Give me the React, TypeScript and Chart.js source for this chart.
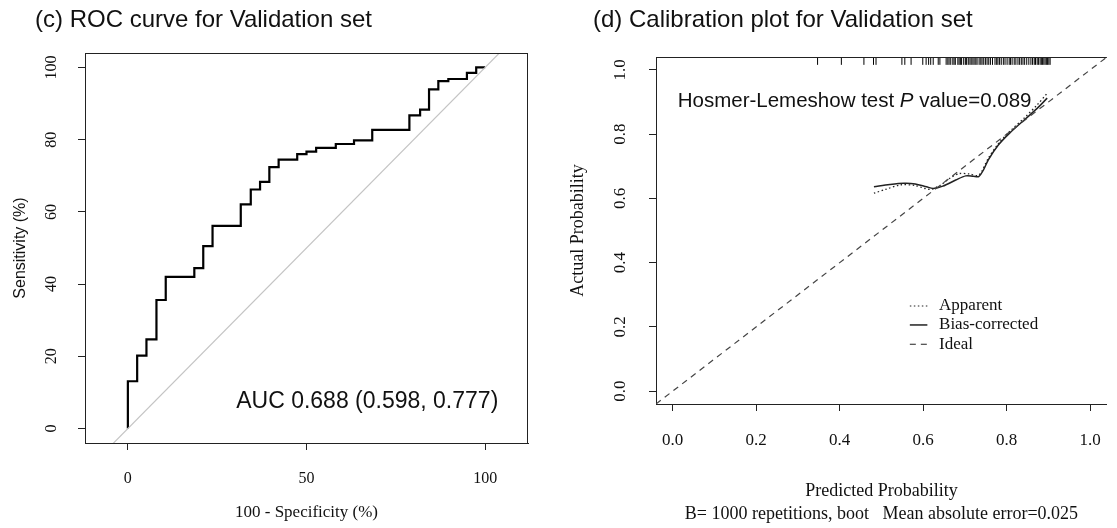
import React, { useEffect, useRef } from 'react';
import { Chart, registerables } from 'chart.js';

Chart.register(...registerables);

// ---------- (c) ROC curve data (100 - specificity %, sensitivity %) ----------
const rocFpr = [0, 0, 2.6, 2.6, 5.2, 5.2, 8.0, 8.0, 10.6, 10.6, 18.6, 18.6, 21.1, 21.1, 23.7, 23.7, 31.6, 31.6, 34.4, 34.4, 37.0, 37.0, 39.6, 39.6, 42.2, 42.2, 47.4, 47.4, 50.0, 50.0, 52.7, 52.7, 58.2, 58.2, 63.3, 63.3, 68.4, 68.4, 78.8, 78.8, 81.8, 81.8, 84.3, 84.3, 86.9, 86.9, 89.7, 89.7, 94.9, 94.9, 97.5, 97.5, 100];
const rocTpr = [0, 13.1, 13.1, 20.2, 20.2, 24.7, 24.7, 35.6, 35.6, 42.0, 42.0, 44.4, 44.4, 50.5, 50.5, 56.1, 56.1, 62.1, 62.1, 66.2, 66.2, 68.3, 68.3, 72.4, 72.4, 74.5, 74.5, 76.0, 76.0, 76.7, 76.7, 77.7, 77.7, 78.8, 78.8, 79.8, 79.8, 82.7, 82.7, 86.7, 86.7, 88.3, 88.3, 93.9, 93.9, 96.2, 96.2, 96.8, 96.8, 98.5, 98.5, 100, 100];
const rocDiagonal = [-20, 130];
const rocXTicks = [0, 50, 100];
const rocYTicks = [0, 20, 40, 60, 80, 100];
const rocAucText = 'AUC 0.688 (0.598, 0.777)';

// ---------- (d) Calibration data ----------
const calTicks = [0, 0.2, 0.4, 0.6, 0.8, 1.0];
const idealLine = [-0.04, 1.04];
const apparentX = [0.482, 0.51, 0.546, 0.58, 0.616, 0.64, 0.663, 0.686, 0.71, 0.733, 0.756, 0.78, 0.807, 0.842, 0.873, 0.897];
const apparentY = [0.616, 0.628, 0.642, 0.64, 0.628, 0.64, 0.662, 0.677, 0.676, 0.672, 0.725, 0.77, 0.808, 0.85, 0.891, 0.927];
const biasX = [0.482, 0.52, 0.554, 0.581, 0.608, 0.624, 0.647, 0.678, 0.702, 0.72, 0.733, 0.745, 0.756, 0.78, 0.807, 0.842, 0.873, 0.897];
const biasY = [0.636, 0.643, 0.647, 0.645, 0.636, 0.631, 0.638, 0.657, 0.67, 0.669, 0.668, 0.69, 0.72, 0.766, 0.803, 0.844, 0.88, 0.912];
const rugX = [0.347, 0.404, 0.458, 0.481, 0.487, 0.549, 0.556, 0.571, 0.599, 0.607, 0.613, 0.618, 0.624, 0.636, 0.64,
  0.655, 0.659, 0.662, 0.666, 0.671, 0.674, 0.677, 0.683, 0.686, 0.689, 0.692, 0.697, 0.701, 0.704, 0.708, 0.712, 0.715,
  0.719, 0.722, 0.726, 0.729, 0.734, 0.738, 0.741, 0.745, 0.749, 0.753, 0.757, 0.761, 0.766, 0.772, 0.776, 0.779, 0.783,
  0.787, 0.792, 0.796, 0.801, 0.806, 0.809, 0.813, 0.818, 0.822, 0.827, 0.831, 0.835, 0.839, 0.843, 0.848, 0.853, 0.858,
  0.862, 0.866, 0.869, 0.873, 0.876, 0.88, 0.883, 0.886, 0.889, 0.892, 0.895, 0.898, 0.901, 0.904];
const rugLevel = 1.028;
const hlText = ['Hosmer-Lemeshow test ', 'P', ' value=0.089'];
const legendLabels = ['Apparent', 'Bias-corrected', 'Ideal'];
const legendDashes = [[1.5, 2.5], [], [6, 5]];

const INK = '#111';
const LINE = '#222';
const SERIF = 'Liberation Serif';
const SANS = 'Liberation Sans';

function boxPlugin(drawRight: boolean) {
  return {
    id: 'rBox',
    afterDraw(chart: any) {
      const { ctx, chartArea: a } = chart;
      ctx.save();
      ctx.strokeStyle = LINE;
      ctx.lineWidth = 1;
      ctx.beginPath();
      const t = Math.round(a.top) + 0.5;
      ctx.moveTo(a.left, t);
      ctx.lineTo(a.right, t);
      if (drawRight) {
        const r = Math.round(a.right) - 0.5;
        ctx.moveTo(r, a.top);
        ctx.lineTo(r, a.bottom);
      }
      ctx.stroke();
      ctx.restore();
    },
  };
}

function rotatedYLabels(xPos: number, fmt: (v: number) => string, font: string) {
  return {
    id: 'rotatedYLabels',
    afterDraw(chart: any) {
      const ctx = chart.ctx;
      const s = chart.scales.y;
      ctx.save();
      ctx.fillStyle = INK;
      ctx.font = font;
      ctx.textAlign = 'center';
      ctx.textBaseline = 'middle';
      s.ticks.forEach((t: any) => {
        const py = s.getPixelForValue(t.value);
        ctx.save();
        ctx.translate(xPos, py);
        ctx.rotate(-Math.PI / 2);
        ctx.fillText(fmt(t.value), 0, 0);
        ctx.restore();
      });
      ctx.restore();
    },
  };
}

function titlePlugin(text: string, x: number, y: number) {
  return {
    id: 'panelTitle',
    afterDraw(chart: any) {
      const ctx = chart.ctx;
      ctx.save();
      ctx.fillStyle = INK;
      ctx.font = `24px "${SANS}"`;
      ctx.textAlign = 'left';
      ctx.textBaseline = 'middle';
      ctx.fillText(text, x, y);
      ctx.restore();
    },
  };
}

const aucPlugin = {
  id: 'aucText',
  afterDraw(chart: any) {
    const { ctx, scales } = chart;
    ctx.save();
    ctx.fillStyle = INK;
    ctx.font = `23px "${SANS}"`;
    ctx.textAlign = 'center';
    ctx.textBaseline = 'middle';
    ctx.fillText(rocAucText, scales.x.getPixelForValue(67), scales.y.getPixelForValue(7.5));
    ctx.restore();
  },
};

const calAnnotPlugin = {
  id: 'calAnnot',
  afterDraw(chart: any) {
    const { ctx, scales } = chart;
    const sx = scales.x, sy = scales.y;
    ctx.save();
    ctx.fillStyle = INK;
    ctx.textBaseline = 'middle';
    ctx.textAlign = 'left';
    // Hosmer-Lemeshow text with italic P
    let px = sx.getPixelForValue(0.012);
    const py = sy.getPixelForValue(0.903);
    hlText.forEach((part, i) => {
      ctx.font = i === 1 ? `italic 20.5px "${SANS}"` : `20.5px "${SANS}"`;
      ctx.fillText(part, px, py);
      px += ctx.measureText(part).width;
    });
    // legend
    const ly = [0.265, 0.206, 0.146];
    ctx.font = `17px "${SERIF}"`;
    legendLabels.forEach((lab, i) => {
      const y = sy.getPixelForValue(ly[i]);
      ctx.save();
      ctx.strokeStyle = LINE;
      ctx.lineWidth = i === 1 ? 1.5 : 1.2;
      ctx.setLineDash(legendDashes[i]);
      ctx.beginPath();
      ctx.moveTo(sx.getPixelForValue(0.568), y);
      ctx.lineTo(sx.getPixelForValue(0.61), y);
      ctx.stroke();
      ctx.restore();
      ctx.fillText(lab, sx.getPixelForValue(0.638), y);
    });
    ctx.restore();
  },
};

function fixedTicks(values: number[]) {
  return (s: any) => {
    s.ticks = values.map((v) => ({ value: v }));
  };
}

export default function App() {
  const leftRef = useRef<HTMLCanvasElement>(null);
  const rightRef = useRef<HTMLCanvasElement>(null);

  useEffect(() => {
    Chart.defaults.font.family = SERIF;
    const axisGrid = { drawOnChartArea: false, drawTicks: true, tickLength: 7, color: LINE, lineWidth: 1 };
    const axisBorder = { color: LINE, width: 1 };

    const roc = new Chart(leftRef.current as HTMLCanvasElement, {
      type: 'scatter',
      data: {
        datasets: [
          {
            data: rocDiagonal.map((v) => ({ x: v, y: v })),
            showLine: true,
            borderColor: '#c4c4c4',
            borderWidth: 1.2,
            pointRadius: 0,
          },
          {
            data: rocFpr.map((x, i) => ({ x, y: rocTpr[i] })),
            showLine: true,
            borderColor: '#000',
            borderWidth: 2.2,
            pointRadius: 0,
            tension: 0,
          },
        ],
      },
      options: {
        responsive: false,
        animation: false,
        events: [],
        layout: { padding: { top: 53, right: 32, left: 0, bottom: 0 } },
        plugins: { legend: { display: false }, tooltip: { enabled: false } },
        scales: {
          x: {
            type: 'linear',
            min: -12,
            max: 112,
            afterBuildTicks: fixedTicks(rocXTicks),
            afterFit: (s: any) => { s.height = 85; },
            grid: axisGrid,
            border: axisBorder,
            ticks: { autoSkip: false, maxRotation: 0, padding: 19, color: INK, font: { family: SERIF, size: 16 }, callback: (v: any) => String(v) },
            title: { display: true, text: '100 - Specificity (%)', color: INK, font: { family: SERIF, size: 17 }, padding: { top: 0, bottom: 4.8 } },
          },
          y: {
            type: 'linear',
            min: -4,
            max: 104,
            afterBuildTicks: fixedTicks(rocYTicks),
            afterFit: (s: any) => { s.width = 85; },
            grid: axisGrid,
            border: axisBorder,
            ticks: { display: false },
            title: { display: true, text: 'Sensitivity (%)', color: INK, font: { family: SANS, size: 16 }, padding: { top: 11.4, bottom: 0 } },
          },
        },
      } as any,
      plugins: [
        boxPlugin(true),
        rotatedYLabels(52, (v) => String(v), `16px "${SERIF}"`),
        titlePlugin('(c) ROC curve for Validation set', 35, 20),
        aucPlugin,
      ],
    });

    const cal = new Chart(rightRef.current as HTMLCanvasElement, {
      type: 'scatter',
      data: {
        datasets: [
          {
            data: idealLine.map((v) => ({ x: v, y: v })),
            showLine: true,
            borderColor: '#444',
            borderWidth: 1.2,
            borderDash: [6, 5],
            pointRadius: 0,
          },
          {
            data: apparentX.map((x, i) => ({ x, y: apparentY[i] })),
            showLine: true,
            borderColor: LINE,
            borderWidth: 1.3,
            borderDash: [1.5, 2.5],
            pointRadius: 0,
            tension: 0.3,
          },
          {
            data: biasX.map((x, i) => ({ x, y: biasY[i] })),
            showLine: true,
            borderColor: LINE,
            borderWidth: 1.5,
            pointRadius: 0,
            tension: 0.3,
          },
          {
            data: rugX.map((x) => ({ x, y: rugLevel })),
            showLine: false,
            pointStyle: 'line',
            rotation: 90,
            pointRadius: 4,
            borderColor: '#000',
            borderWidth: 1,
          },
        ],
      },
      options: {
        responsive: false,
        animation: false,
        events: [],
        layout: { padding: { top: 57, right: 2, left: 0, bottom: 0 } },
        plugins: { legend: { display: false }, tooltip: { enabled: false } },
        scales: {
          x: {
            type: 'linear',
            min: -0.04,
            max: 1.04,
            afterBuildTicks: fixedTicks(calTicks),
            afterFit: (s: any) => { s.height = 124; },
            grid: axisGrid,
            border: axisBorder,
            ticks: { autoSkip: false, maxRotation: 0, padding: 19, color: INK, font: { family: SERIF, size: 17 }, callback: (v: any) => Number(v).toFixed(1) },
            title: {
              display: true,
              text: ['Predicted Probability', 'B= 1000 repetitions, boot   Mean absolute error=0.025'],
              color: INK,
              font: { family: SERIF, size: 18, lineHeight: 23 / 18 },
              padding: { top: 0, bottom: 2.5 },
            },
          },
          y: {
            type: 'linear',
            min: -0.04,
            max: 1.04,
            afterBuildTicks: fixedTicks(calTicks),
            afterFit: (s: any) => { s.width = 96; },
            grid: axisGrid,
            border: axisBorder,
            ticks: { display: false },
            title: { display: true, text: 'Actual Probability', color: INK, font: { family: SERIF, size: 18 }, padding: { top: 7.2, bottom: 0 } },
          },
        },
      } as any,
      plugins: [
        boxPlugin(false),
        rotatedYLabels(61, (v) => v.toFixed(1), `17px "${SERIF}"`),
        titlePlugin('(d) Calibration plot for Validation set', 33, 20),
        calAnnotPlugin,
      ],
    });

    return () => {
      roc.destroy();
      cal.destroy();
    };
  }, []);

  return (
    <div style={{ position: 'absolute', left: 0, top: 0, width: 1117, height: 528, overflow: 'hidden', background: '#fff' }}>
      <canvas ref={leftRef} width={560} height={528} style={{ position: 'absolute', left: 0, top: 0 }} />
      <canvas ref={rightRef} width={560} height={528} style={{ position: 'absolute', left: 560, top: 0 }} />
    </div>
  );
}
